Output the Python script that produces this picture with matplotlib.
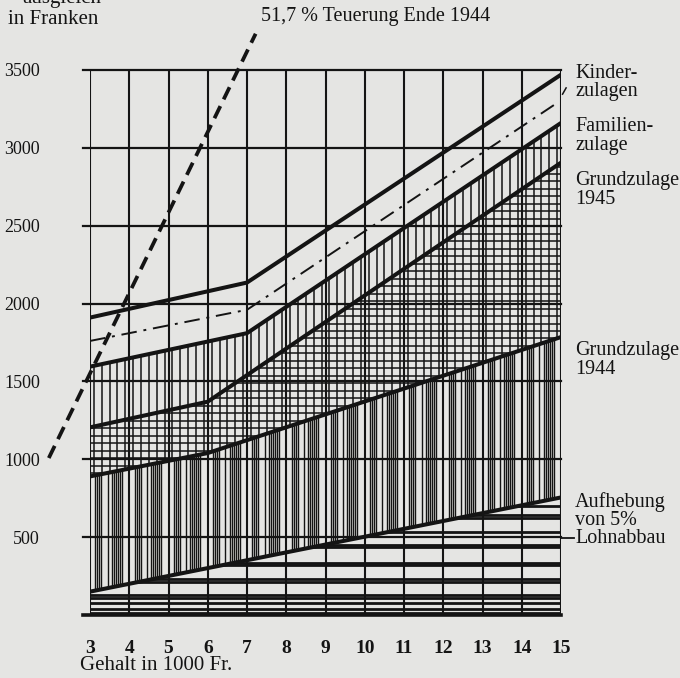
import numpy as np
import matplotlib.pyplot as plt
from matplotlib.collections import LineCollection

plt.rcParams["font.family"] = ["Liberation Serif", "DejaVu Serif"]

# Gehalt in 1000 Fr. und Beträge in Franken
gehalt = list(range(3, 16))
franken_ticks = [500, 1000, 1500, 2000, 2500, 3000, 3500]

aufhebung_x = [3, 15]
aufhebung = [150, 755]          # Aufhebung von 5 % Lohnabbau
grund44_x = [3, 6, 15]
grund44 = [890, 1040, 1785]     # Grundzulage 1944
grund45_x = [3, 6, 15]
grund45 = [1205, 1370, 2905]    # Grundzulage 1945
familien_x = [3, 7, 15]
familien = [1595, 1810, 3160]   # Familienzulage
strich_x = [3, 7, 14.85]
strich = [1760, 1960, 3280]     # strichpunktierte Linie
kinder_x = [3, 7, 15]
kinder = [1910, 2135, 3470]     # Kinderzulagen

teuerung_satz = 0.517           # 51,7 % Teuerung Ende 1944
teuerung_x = [1.95, 7.22]

BG = "#e5e5e3"
INK = "#141414"

fig = plt.figure(figsize=(6.8, 6.78), dpi=100, facecolor=BG)
ax = fig.add_axes([90 / 680, 1 - 615 / 678, 471 / 680, 545 / 678])
ax.set_facecolor(BG)
ax.set_xlim(3, 15)
ax.set_ylim(0, 3500)
for s in ax.spines.values():
    s.set_visible(False)

xs = np.linspace(3, 15, 241)
y_auf = np.interp(xs, aufhebung_x, aufhebung)
y_44 = np.interp(xs, grund44_x, grund44)
y_45 = np.interp(xs, grund45_x, grund45)
y_fam = np.interp(xs, familien_x, familien)


def region(lo, hi):
    poly = ax.fill_between(xs, lo, hi, facecolor="none", edgecolor="none")
    return poly.get_paths()[0]


def hatch(path, segs, lw):
    lc = LineCollection(segs, colors=INK, linewidths=lw)
    ax.add_collection(lc)
    lc.set_clip_path(path, ax.transData)


# horizontale Schraffur unter der Aufhebungslinie
p = region(np.zeros_like(xs), y_auf)
hy = [15, 40, 75, 112, 126, 212, 230, 318, 336, 436, 452, 535, 622, 645, 700]
hatch(p, [[(3, y), (15, y)] for y in hy], 2.0)

# dichte senkrechte Bänder bis Grundzulage 1944
p = region(y_auf, y_44)
vx = []
for k in range(3, 15):
    for a, b in [(0.14, 0.32), (0.56, 0.84)]:
        vx += list(np.arange(k + a, k + b, 0.05))
    vx.append(k + 0.45)
hatch(p, [[(x, 0), (x, 3500)] for x in vx], 1.0)

# Gitter-Schraffur Grundzulage 1945
p = region(y_44, y_45)
gx = np.arange(3.1, 15, 0.2)
gy = np.arange(0, 3500, 48)
hatch(p, [[(x, 0), (x, 3500)] for x in gx] + [[(3, y), (15, y)] for y in gy], 1.1)

# senkrechte Schraffur Familienzulage
p = region(y_45, y_fam)
hatch(p, [[(x, 0), (x, 3500)] for x in gx], 1.1)

# Gitternetz
for x in gehalt:
    ax.plot([x, x], [0, 3500], color=INK, lw=1.5, zorder=3)
for y in franken_ticks:
    ax.plot([2.83, 15], [y, y], color=INK, lw=1.6, zorder=3, clip_on=False)
ax.plot([2.83, 15], [0, 0], color=INK, lw=2.6, zorder=3, clip_on=False)

# Begrenzungslinien
for lx, ly in [(aufhebung_x, aufhebung), (grund44_x, grund44), (grund45_x, grund45),
               (familien_x, familien), (kinder_x, kinder)]:
    ax.plot(lx, ly, color=INK, lw=2.9, zorder=4, solid_capstyle="butt")
ax.plot(strich_x, strich, color=INK, lw=1.4, zorder=4, dashes=(8, 3.5, 1.5, 3.5))

# 51,7 % Teuerung
tx = np.array(teuerung_x)
ax.plot(tx, tx * 1000 * teuerung_satz, color=INK, lw=2.7, dashes=(3.6, 2),
        zorder=5, clip_on=False)
ax.text(7.35, 3845, "51,7 % Teuerung Ende 1944", fontsize=14.5, color=INK,
        ha="left", va="center", clip_on=False)

# Achsenbeschriftung
ax.set_xticks(gehalt)
ax.set_xticklabels([str(g) for g in gehalt], fontsize=14, fontweight="bold", color=INK)
ax.set_yticks(franken_ticks)
ax.set_yticklabels([str(v) for v in franken_ticks], fontsize=13, color=INK)
ax.tick_params(axis="x", length=0, pad=18)
ax.tick_params(axis="y", length=0, pad=36)
fig.text(80 / 680, 1 - 665 / 678, "Gehalt in 1000 Fr.", fontsize=15, color=INK,
         ha="left", va="center")
fig.text(22 / 680, 1 + 2 / 678, "ausgleich", fontsize=15, color=INK,
         ha="left", va="center")
fig.text(8 / 680, 1 - 19 / 678, "in Franken", fontsize=15, color=INK,
         ha="left", va="center")

# Beschriftungen rechts
rechts = [
    (3420, "Kinder-\nzulagen"),
    (3076, "Familien-\nzulage"),
    (2730, "Grundzulage\n1945"),
    (1638, "Grundzulage\n1944"),
    (610, "Aufhebung\nvon 5%\nLohnabbau"),
]
for y, t in rechts:
    ax.text(15.36, y, t, fontsize=14.5, color=INK, ha="left", va="center",
            linespacing=0.95, clip_on=False)
ax.plot([15.04, 15.13], [3345, 3385], color=INK, lw=1.1, clip_on=False)
ax.plot([15.0, 15.33], [495, 495], color=INK, lw=1.3, clip_on=False)

fig.savefig("out.png", dpi=100, facecolor=BG)
